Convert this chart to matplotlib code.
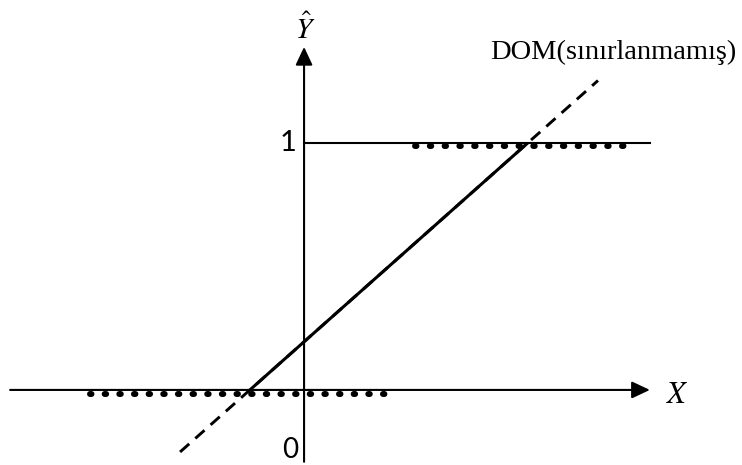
import matplotlib
matplotlib.use("Agg")
import matplotlib.pyplot as plt

plt.rcParams['mathtext.fontset'] = 'stix'

# Modelin parametreleri (Y = b0 + b1*X)
b0 = 0.195
b1 = 0.889

# Eksen sınırları
x_axis = [-1.19, 1.40]
y_axis = [-0.291, 1.389]

# Kesikli kısım (sınırlanmamış DOM) ve düz kısım
dom_x = [-0.502, 1.19]
x_zero = -b0 / b1
x_one = (1 - b0) / b1

# Noktalı gözlem sıraları
dots_low_x = [-0.866, 0.320]
dots_low_y = -0.016
dots_low_n = 21
dots_high_x = [0.449, 1.287]
dots_high_y = 0.988
dots_high_n = 15

PX_PER_UNIT = 247  # 742 px geniş figürde veri birimi başına piksel

fig = plt.figure(figsize=(7.42, 4.65), dpi=100)
ax = fig.add_axes([0, 0, 1, 1])
ax.set_xlim(-1.231, 1.773)
ax.set_ylim(-0.304, 1.579)
ax.axis('off')

arrow = dict(arrowstyle='-|>,head_length=1.0,head_width=0.47', mutation_scale=11,
             lw=1.5, color='black', shrinkA=0, shrinkB=0)
ax.annotate('', xy=(x_axis[1], 0), xytext=(x_axis[0], 0), arrowprops=arrow)
ax.annotate('', xy=(0, y_axis[1]), xytext=(0, y_axis[0]), arrowprops=arrow)

# Y = 1 çizgisi
ax.plot([0, x_axis[1]], [1, 1], color='black', lw=1.5)

# DOM kesikli
ax.plot(dom_x, [b0 + b1 * v for v in dom_x], color='black', lw=2.1,
        dashes=(4.2, 2.8))
# Sınırlandırılmış kısım
ax.plot([x_zero, x_one], [0, 1], color='black', lw=2.2, solid_capstyle='butt')

# Noktalar
def dotted(xr, y, n):
    lw = 4.3
    step = (xr[1] - xr[0]) / (n - 1)
    period_pt = step * PX_PER_UNIT * 0.72
    ax.plot([xr[0], xr[1] + step * 0.5], [y, y], color='black', lw=lw,
            dash_capstyle='round', dashes=(0.25, period_pt / lw - 0.25))

dotted(dots_low_x, dots_low_y, dots_low_n)
dotted(dots_high_x, dots_high_y, dots_high_n)

ax.text(490, 465 - 59, 'DOM(sınırlanmamış)', transform=None, fontsize=20.5,
        family='Liberation Serif', ha='left', va='baseline')
ax.text(-0.065, 1, '1', fontsize=21, family='Lato', ha='center', va='center')
ax.text(-0.055, -0.245, '0', fontsize=20, family='Lato', ha='center', va='center')
ax.text(0.005, 1.42, r'$\hat{Y}$', fontsize=21, ha='center', va='baseline')
ax.text(1.51, -0.02, r'$X$', fontsize=22, ha='center', va='center')

fig.savefig('out.png', dpi=100)
